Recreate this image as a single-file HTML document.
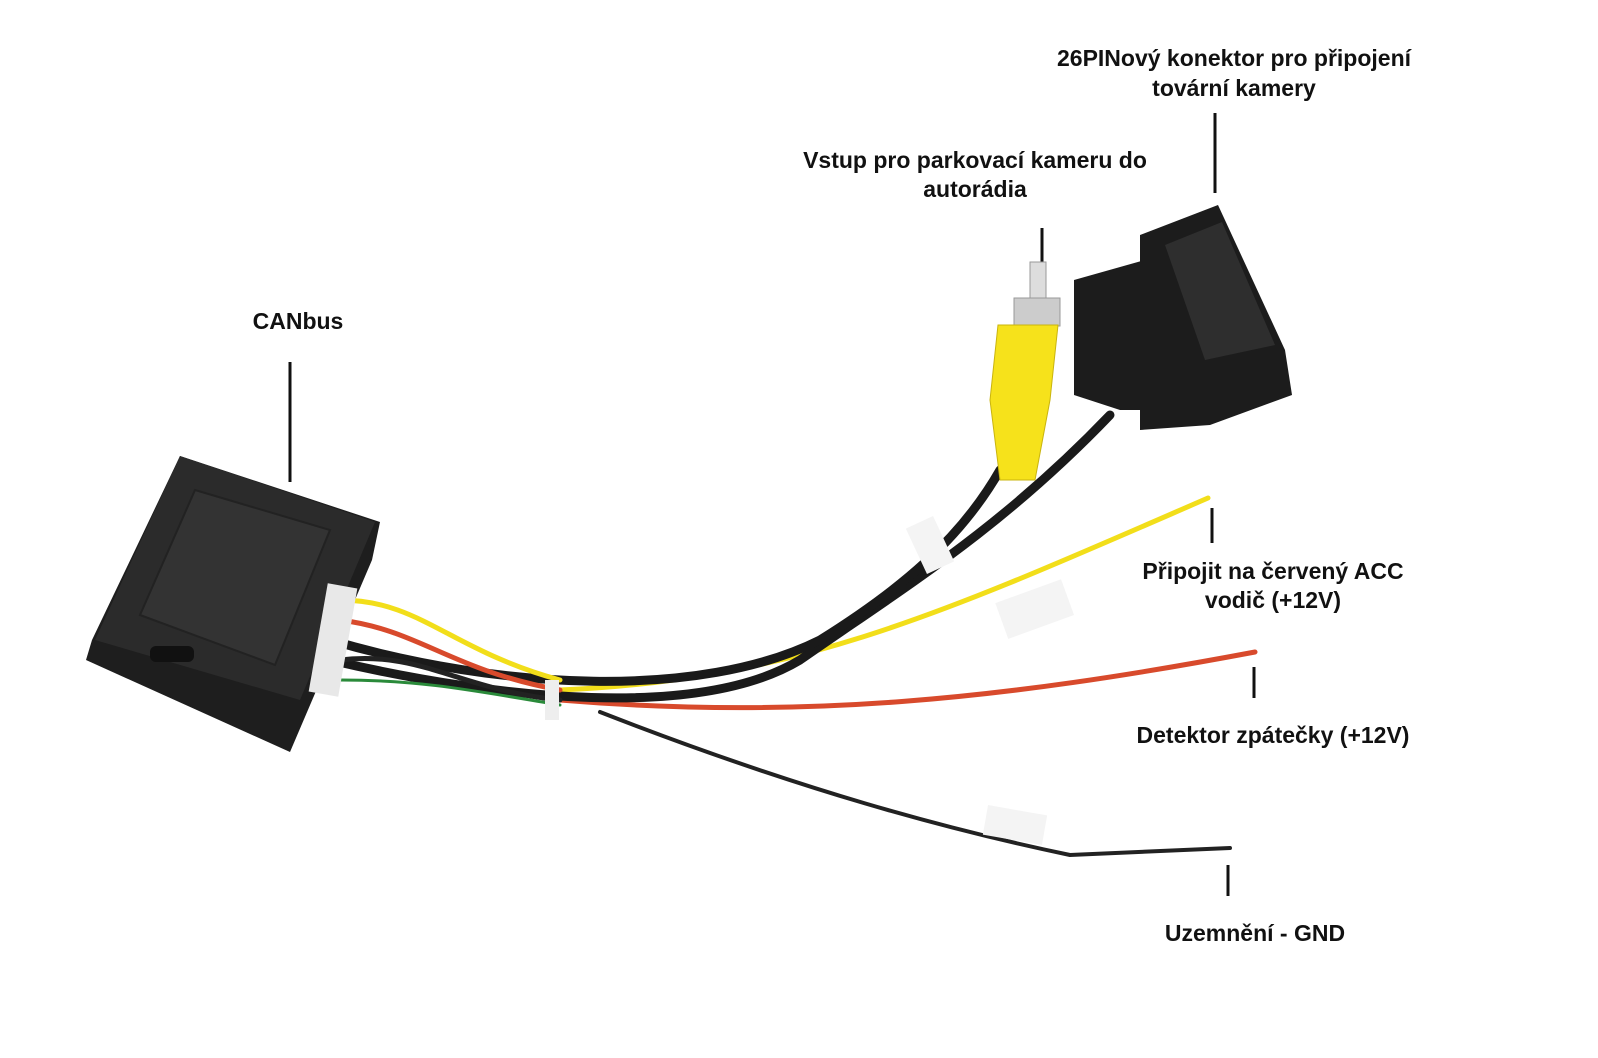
<!DOCTYPE html>
<html><head><meta charset="utf-8"><style>
html,body{margin:0;padding:0;background:#fff;}
svg{display:block}
text{font-family:"Liberation Sans",sans-serif;font-weight:bold;font-size:23px;fill:#111;text-anchor:middle}
</style></head><body>
<svg width="1598" height="1058" viewBox="0 0 1598 1058" xmlns="http://www.w3.org/2000/svg">
<rect width="1598" height="1058" fill="#fff"/>
<text x="1234" y="66">26PINový konektor pro připojení</text>
<text x="1234" y="96">tovární kamery</text>
<text x="975" y="168">Vstup pro parkovací kameru do</text>
<text x="975" y="197">autorádia</text>
<text x="298" y="329">CANbus</text>
<text x="1273" y="579">Připojit na červený ACC</text>
<text x="1273" y="608">vodič (+12V)</text>
<text x="1273" y="743">Detektor zpátečky (+12V)</text>
<text x="1255" y="941">Uzemnění - GND</text>
<g stroke="#111" stroke-width="3">
<line x1="1215" y1="113" x2="1215" y2="193"/>
<line x1="1042" y1="228" x2="1042" y2="262"/>
<line x1="290" y1="362" x2="290" y2="482"/>
<line x1="1212" y1="508" x2="1212" y2="543"/>
<line x1="1254" y1="667" x2="1254" y2="698"/>
<line x1="1228" y1="865" x2="1228" y2="896"/>
</g>
<g fill="none" stroke-linecap="round">
<path d="M600 712 C800 790 950 830 1070 855 L1230 848" stroke="#222" stroke-width="4"/>
<path d="M560 700 C800 720 1000 700 1255 652" stroke="#d84a2c" stroke-width="5"/>
<path d="M560 690 C800 680 950 610 1208 498" stroke="#f2de1a" stroke-width="5"/>
<path d="M330 660 C500 700 700 720 800 660 C900 590 1000 530 1110 415" stroke="#1a1a1a" stroke-width="9"/>
<path d="M330 640 C500 690 700 700 820 640 C900 590 960 540 1000 470" stroke="#1a1a1a" stroke-width="9"/>
<path d="M340 600 C420 600 450 650 560 680" stroke="#f2de1a" stroke-width="5"/>
<path d="M340 620 C420 630 450 670 560 690" stroke="#d84a2c" stroke-width="5"/>
<path d="M340 660 C420 650 460 690 560 700" stroke="#222" stroke-width="5"/>
<path d="M340 680 C420 680 470 690 560 705" stroke="#2a8a3a" stroke-width="3"/>
</g>
<rect x="1000" y="590" width="70" height="38" fill="#f4f4f4" transform="rotate(-20 1035 610)"/>
<rect x="915" y="520" width="30" height="50" fill="#f4f4f4" transform="rotate(-25 930 545)"/>
<rect x="985" y="810" width="60" height="30" fill="#f4f4f4" transform="rotate(10 1015 825)"/>
<rect x="545" y="680" width="14" height="40" fill="#eee"/>
<polygon points="180,456 380,522 372,560 290,752 86,660 92,640" fill="#1e1e1e"/>
<polygon points="180,456 375,522 300,700 95,640" fill="#2b2b2b"/>
<polygon points="195,490 330,530 275,665 140,615" fill="#333" stroke="#222" stroke-width="2"/>
<rect x="150" y="646" width="44" height="16" rx="6" fill="#111"/>
<rect x="318" y="585" width="30" height="110" fill="#e8e8e8" transform="rotate(10 333 640)"/>
<rect x="1030" y="262" width="16" height="40" fill="#ddd" stroke="#999"/>
<rect x="1014" y="298" width="46" height="28" fill="#ccc" stroke="#999"/>
<path d="M998 325 L1058 325 L1050 400 L1035 480 L1000 480 L990 400 Z" fill="#f6e21b" stroke="#c9b40e"/>
<polygon points="1074,280 1145,260 1145,410 1120,410 1074,395" fill="#1c1c1c"/>
<polygon points="1140,235 1218,205 1285,350 1292,395 1210,425 1140,430" fill="#1c1c1c"/>
<polygon points="1165,245 1222,222 1275,345 1205,360" fill="#2e2e2e"/>
</svg>
</body></html>
